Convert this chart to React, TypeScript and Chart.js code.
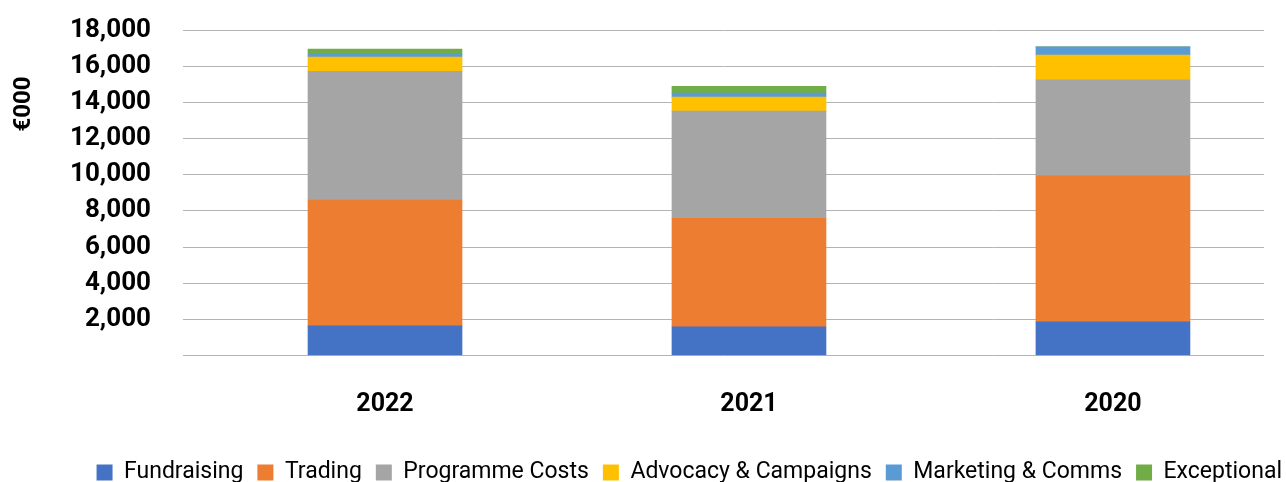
import React, { useEffect, useRef } from "react";
import { Chart, registerables } from "chart.js";

Chart.register(...registerables);

const years = ["2022", "2021", "2020"];
const fundraising = [1640, 1590, 1860];
const trading = [6950, 6000, 8075];
const programmeCosts = [7130, 5920, 5310];
const advocacy = [780, 780, 1365];
const marketing = [160, 220, 460];
const exceptional = [280, 380, 0];

const yTicks = [0, 2000, 4000, 6000, 8000, 10000, 12000, 14000, 16000, 18000];

const seriesNames = [
  "Fundraising",
  "Trading",
  "Programme Costs",
  "Advocacy & Campaigns",
  "Marketing & Comms",
  "Exceptional",
];
const seriesValues = [fundraising, trading, programmeCosts, advocacy, marketing, exceptional];
const seriesColors = ["#4472C4", "#ED7D31", "#A5A5A5", "#FFC000", "#5B9BD5", "#70AD47"];

const yTitlePlugin = {
  id: "yTitle",
  afterDraw(chart: any) {
    const ctx = chart.ctx;
    ctx.save();
    ctx.translate(23.5, 104);
    ctx.rotate(-Math.PI / 2);
    ctx.font = "bold 24px Roboto";
    ctx.fillStyle = "#000";
    ctx.textAlign = "center";
    ctx.textBaseline = "middle";
    ctx.fillText("€000", 0, 0);
    ctx.restore();
  },
};

export default function App() {
  const ref = useRef<HTMLCanvasElement>(null);

  useEffect(() => {
    document.body.style.margin = "0";
    document.body.style.overflow = "hidden";
    const canvas = ref.current;
    if (!canvas) return;
    const chart = new Chart(canvas, {
      type: "bar",
      data: {
        datasets: seriesNames.map((name, si) => ({
          label: name,
          data: seriesValues[si].map((v, i) => ({ x: i, y: v })),
          backgroundColor: seriesColors[si],
          borderWidth: 0,
          barThickness: 154,
        })),
      },
      plugins: [yTitlePlugin],
      options: {
        animation: false,
        responsive: false,
        layout: { padding: { top: 30, left: 0, right: 0, bottom: 0 } },
        plugins: {
          tooltip: { enabled: false },
          legend: {
            position: "bottom",
            align: "end",
            labels: {
              boxWidth: 16,
              boxHeight: 16,
              padding: 14,
              color: "#000",
              font: { family: "Roboto", size: 23 },
            },
          },
        },
        scales: {
          x: {
            type: "linear",
            stacked: true,
            offset: false,
            min: -0.555,
            max: 2.415,
            grid: { display: false, offset: false },
            border: { display: false },
            afterBuildTicks: (s: any) => {
              s.ticks = years.map((_, i) => ({ value: i }));
            },
            afterFit: (s: any) => {
              s.height = 91.5;
              s.paddingLeft = 0;
              s.paddingRight = 0;
            },
            ticks: {
              autoSkip: false,
              maxRotation: 0,
              padding: 26,
              color: "#000",
              font: { family: "Roboto", size: 25, weight: "bold" },
              callback: (v: any) => years[v] ?? "",
            },
          },
          y: {
            stacked: true,
            min: 0,
            max: 18000,
            afterBuildTicks: (s: any) => {
              s.ticks = yTicks.map((v) => ({ value: v }));
            },
            afterFit: (s: any) => {
              s.width = 183;
              s.paddingTop = 0;
              s.paddingBottom = 0;
            },
            grid: { color: "#B4B4B4", lineWidth: 1, drawTicks: false },
            border: { display: false },
            ticks: {
              padding: 32,
              color: "#000",
              font: { family: "Roboto", size: 26, weight: "bold" },
              callback: (v: any) => (v === 0 ? "" : Number(v).toLocaleString("en-US")),
            },
          },
          yRight: {
            position: "right",
            display: true,
            grid: { display: false },
            border: { display: false },
            ticks: { display: false },
            afterFit: (s: any) => {
              s.width = 32;
              s.paddingTop = 0;
              s.paddingBottom = 0;
            },
          },
        },
      },
    } as any);
    return () => chart.destroy();
  }, []);

  return <canvas ref={ref} width={1296} height={494} style={{ display: "block" }} />;
}
